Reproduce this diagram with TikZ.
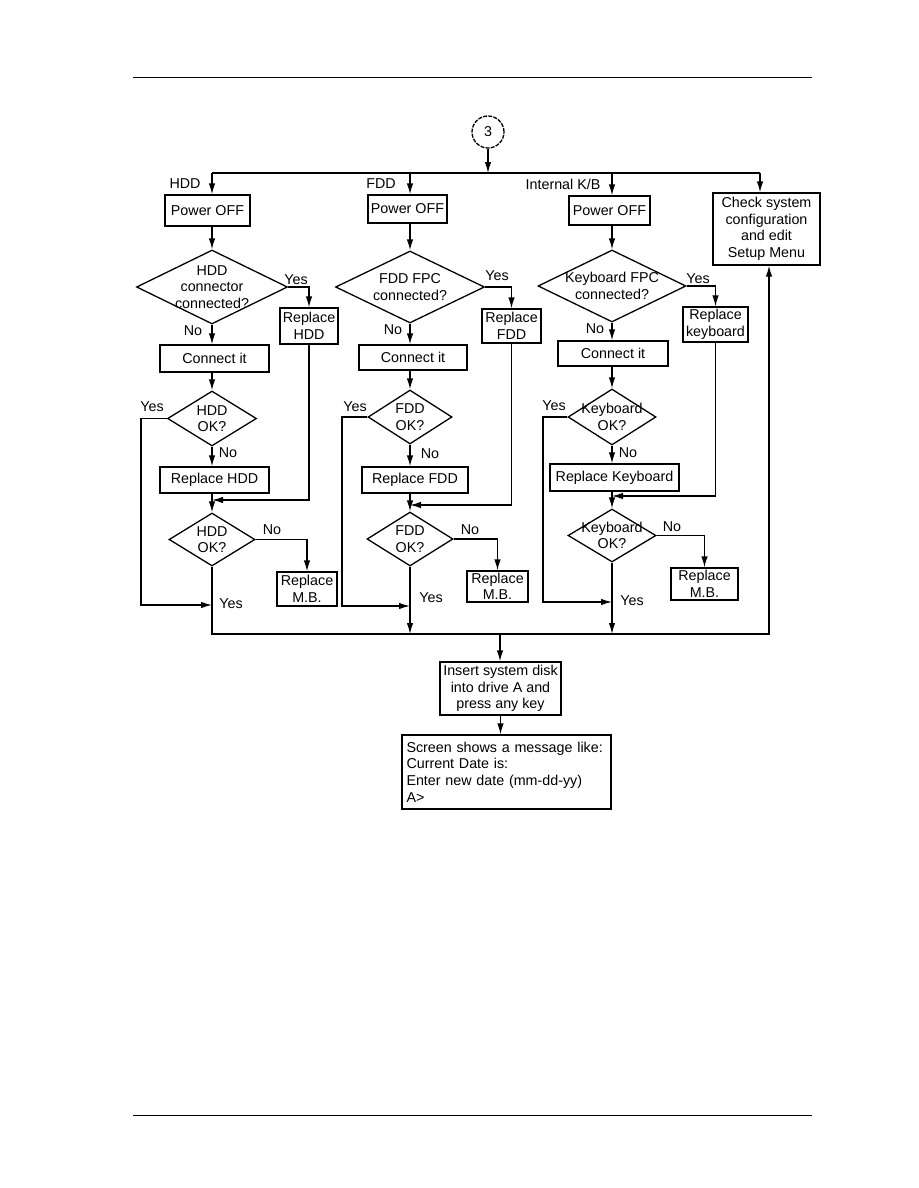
\documentclass[tikz,border=0pt]{standalone}
\usepackage{fontspec}
\setmainfont{Liberation Sans}
\usetikzlibrary{shapes.geometric,arrows.meta}
\newcommand\flowfont{\fontsize{14.3}{16.6}\selectfont}
\begin{document}
\begin{tikzpicture}[x=1pt,y=-1pt,line width=1.3pt,
  box/.style={draw,rectangle,inner sep=0pt,align=center,font=\flowfont},
  dia/.style={draw,diamond,inner sep=0pt,shape aspect=2},
  lbl/.style={font=\flowfont,inner sep=0pt,align=center},
  arr/.style={-{Latex[length=11pt,width=6.5pt]}}]
\useasboundingbox (0,0) rectangle (918,1188);
% page rules
\draw[line width=0.8pt] (133,77) coordinate (tl) -- (812,77) coordinate (tr);
\draw[line width=0.8pt] (133,1115) coordinate (bl) -- (812,1115) coordinate (br);

% start
\node[draw,circle,dash pattern=on 4pt off 1.2pt,minimum size=32pt,inner sep=0pt,font=\flowfont] (cir) at (488,132) {3};
\coordinate (j0) at (488,173);
\coordinate (bL) at (212,173);
\coordinate (b2) at (410,173);
\coordinate (b3) at (612,173);
\coordinate (bR) at (760,173);
\draw[arr] (cir.south) -- (j0);
\draw (bL) -- (bR);

\node[lbl] (lh) at (185,184) {HDD};
\node[lbl] (lf) at (381,184) {FDD};
\node[lbl] (lk) at (563,184) {Internal K/B};

% ---------------- HDD column
\node[box,minimum width=85pt,minimum height=31pt] (p1) at (207.5,210.5) {Power OFF};
\node[dia,minimum width=151pt,minimum height=74pt,label={[lbl]center:{HDD\\connector\\connected?}}] (d1) at (212,287) {};
\node[box,minimum width=58pt,minimum height=36pt] (r1) at (309,326) {Replace\\HDD};
\node[box,minimum width=109pt,minimum height=27pt] (k1) at (214.5,358.5) {Connect it};
\node[dia,minimum width=89pt,minimum height=55pt,label={[lbl]center:{HDD\\OK?}}] (e1) at (212,418.5) {};
\node[box,minimum width=109pt,minimum height=26pt] (h1) at (214.5,480) {Replace HDD};
\node[dia,minimum width=86pt,minimum height=53pt,label={[lbl]center:{HDD\\OK?}}] (f1) at (212,539.5) {};
\node[box,minimum width=60pt,minimum height=34pt] (m1) at (307,589) {Replace\\M.B.};
\coordinate (y1) at (141,605);
\coordinate (j1) at (212,500);

\draw[arr] (bL) -- (bL |- p1.north);
\draw[arr] (d1.north |- p1.south) -- (d1.north);
\draw[arr] (d1.east) -| (r1.north);
\draw[arr] (d1.south) -- (d1.south |- k1.north);
\draw[arr] (e1.north |- k1.south) -- (e1.north);
\draw[arr] (e1.west) -| (y1) -- (f1.south |- y1);
\draw[arr] (e1.south) -- (e1.south |- h1.north);
\draw[arr] (f1.north |- h1.south) -- (f1.north);
\draw[arr] (r1.south) |- (j1);
\draw[arr] (f1.east) -| (m1.north);

\node[lbl] (t11) at (296,280) {Yes};
\node[lbl] (t12) at (193,331) {No};
\node[lbl] (t13) at (152,407) {Yes};
\node[lbl] (t14) at (228,453) {No};
\node[lbl] (t15) at (272,530) {No};
\node[lbl] (t16) at (231,604) {Yes};

% ---------------- FDD column
\node[box,minimum width=79pt,minimum height=28pt] (p2) at (407.5,209) {Power OFF};
\node[dia,minimum width=149pt,minimum height=72pt,label={[lbl]center:{FDD FPC\\connected?}}] (d2) at (410,287) {};
\node[box,minimum width=59pt,minimum height=34pt] (r2) at (511.5,326) {Replace\\FDD};
\node[box,minimum width=108pt,minimum height=25pt] (k2) at (413,357.5) {Connect it};
\node[dia,minimum width=84pt,minimum height=54pt,label={[lbl]center:{FDD\\OK?}}] (e2) at (410,417) {};
\node[box,minimum width=106pt,minimum height=26pt] (h2) at (415,480) {Replace FDD};
\node[dia,minimum width=86pt,minimum height=54pt,label={[lbl]center:{FDD\\OK?}}] (f2) at (410,539) {};
\node[box,minimum width=61pt,minimum height=31pt] (m2) at (497.5,586.5) {Replace\\M.B.};
\coordinate (y2) at (342,606);
\coordinate (j2) at (410,505);

\draw[arr] (b2) -- (b2 |- p2.north);
\draw[arr] (d2.north |- p2.south) -- (d2.north);
\draw[arr] (d2.east) -| (r2.north);
\draw[arr] (d2.south) -- (d2.south |- k2.north);
\draw[arr] (e2.north |- k2.south) -- (e2.north);
\draw[arr] (e2.west) -| (y2) -- (f2.south |- y2);
\draw[arr] (e2.south) -- (e2.south |- h2.north);
\draw[arr] (f2.north |- h2.south) -- (f2.north);
\draw[arr] (r2.south) |- (j2);
\draw[arr] (f2.east) -| (m2.north);

\node[lbl] (t21) at (497,276) {Yes};
\node[lbl] (t22) at (393,330) {No};
\node[lbl] (t23) at (355,407) {Yes};
\node[lbl] (t24) at (430,454) {No};
\node[lbl] (t25) at (470,530) {No};
\node[lbl] (t26) at (431,598) {Yes};

% ---------------- Keyboard column
\node[box,minimum width=81pt,minimum height=29pt] (p3) at (609.5,210.5) {Power OFF};
\node[dia,minimum width=148pt,minimum height=72pt,label={[lbl]center:{Keyboard FPC\\connected?}}] (d3) at (612,286) {};
\node[box,minimum width=65pt,minimum height=35pt] (r3) at (715.5,324.5) {Replace\\keyboard};
\node[box,minimum width=110pt,minimum height=25pt] (k3) at (613,353.5) {Connect it};
\node[dia,minimum width=88pt,minimum height=56pt,label={[lbl]center:{Keyboard\\OK?}}] (e3) at (612,417) {};
\node[box,minimum width=129pt,minimum height=27pt] (h3) at (614.5,477.5) {Replace Keyboard};
\node[dia,minimum width=88pt,minimum height=53pt,label={[lbl]center:{Keyboard\\OK?}}] (f3) at (612,535.5) {};
\node[box,minimum width=67pt,minimum height=32pt] (m3) at (704.5,584) {Replace\\M.B.};
\coordinate (y3) at (543,602);
\coordinate (j3) at (612,496);

\draw[arr] (b3) -- (b3 |- p3.north);
\draw[arr] (d3.north |- p3.south) -- (d3.north);
\draw[arr] (d3.east) -| (r3.north);
\draw[arr] (d3.south) -- (d3.south |- k3.north);
\draw[arr] (e3.north |- k3.south) -- (e3.north);
\draw[arr] (e3.west) -| (y3) -- (f3.south |- y3);
\draw[arr] (e3.south) -- (e3.south |- h3.north);
\draw[arr] (f3.north |- h3.south) -- (f3.north);
\draw[arr] (r3.south) |- (j3);
\draw[arr] (f3.east) -| (m3.north);

\node[lbl] (t31) at (698,279) {Yes};
\node[lbl] (t32) at (595,329) {No};
\node[lbl] (t33) at (554,406) {Yes};
\node[lbl] (t34) at (628,453) {No};
\node[lbl] (t35) at (672,527) {No};
\node[lbl] (t36) at (632,601) {Yes};

% ---------------- check system
\node[box,minimum width=107pt,minimum height=72pt] (chk) at (766.5,229) {Check system\\configuration\\and edit\\Setup Menu};
\draw[arr] (bR) -- (bR |- chk.north);

% ---------------- collector and bottom
\coordinate (colR) at (769,634);
\coordinate (colM) at (500,634);
\draw[arr] (f1.south) |- (colR) -- (colR |- chk.south);
\draw[arr] (f2.south) -- (f2.south |- colR);
\draw[arr] (f3.south) -- (f3.south |- colR);

\node[box,minimum width=121pt,minimum height=53pt] (ins) at (500.5,688.5) {Insert system disk\\into drive A and\\press any key};
\node[box,minimum width=209pt,minimum height=74pt,inner xsep=4.5pt,text width=200pt,align=left] (scr) at (506.5,772) {Screen shows a message like:\\Current Date is:\\Enter new date (mm-dd-yy)\\A>};
\draw[arr] (colM) -- (colM |- ins.north);
\draw[arr] (ins.south) -- (ins.south |- scr.north);
\end{tikzpicture}
\end{document}
